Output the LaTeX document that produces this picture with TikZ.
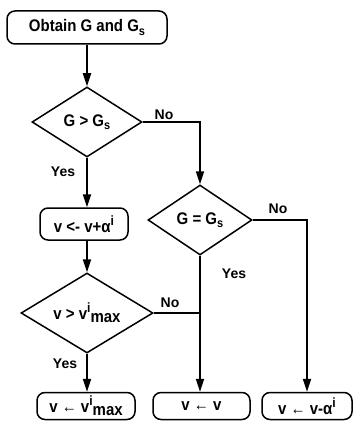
\documentclass[tikz,border=0pt]{standalone}
\usepackage{fontspec}
\setmainfont{Liberation Sans}
\usetikzlibrary{shapes.geometric,arrows.meta}
\newcommand{\supi}{\raisebox{0.42em}{\fontsize{12}{12}\selectfont i}}
\newcommand{\lowmax}{\raisebox{-0.18em}{max}}
\newcommand{\subs}{\raisebox{-0.2em}{\fontsize{11}{11}\selectfont s}}
\newcommand{\tallt}[1]{\scalebox{1}[1.12]{#1}}
\tikzset{
  txt/.style={font=\fontsize{15}{18}\selectfont\bfseries, inner sep=0pt},
  roundbox/.style={txt, draw, line width=1.5pt, rounded corners=8pt},
  decision/.style={txt, draw, diamond, line width=1.5pt, aspect=1.5},
  lbl/.style={font=\fontsize{14}{16}\selectfont\bfseries, inner sep=0pt},
  conn/.style={line width=1.8pt},
  flow/.style={conn, -{Triangle[length=13pt,width=8pt]}}
}
\begin{document}
\begin{tikzpicture}[x=1pt,y=-1pt]
\useasboundingbox (0,0) rectangle (354,422);
\node[roundbox, minimum width=160pt, minimum height=33pt] (start) at (87,27.5) {\tallt{Obtain G and G\subs}};
\node[decision, minimum width=110pt, minimum height=70pt] (d1) at (87,122) {\tallt{G > G\subs}};
\node[roundbox, minimum width=88pt, minimum height=32pt] (b2) at (84,224) {\tallt{v <- v+α\supi}};
\node[decision, minimum width=132pt, minimum height=80pt] (d3) at (87,313) {\tallt{v > v\supi\lowmax}};
\node[decision, minimum width=104pt, minimum height=70pt] (d2) at (200,220) {\tallt{G = G\subs}};
\node[roundbox, minimum width=98pt, minimum height=27pt] (e1) at (86,406) {\tallt{v ← v\supi\lowmax}};
\node[roundbox, minimum width=97pt, minimum height=27pt] (e2) at (201.5,406) {\tallt{v ← v}};
\node[roundbox, minimum width=90pt, minimum height=27pt] (e3) at (307,406) {\tallt{v ← v-α\supi}};

\draw[flow] (start.south -| d1.north) -- (d1.north);
\draw[flow] (d1.east) -| (d2.north);
\draw[flow] (d1.south) -- (d1.south |- b2.north);
\draw[flow] (d3.north |- b2.south) -- (d3.north);
\draw[flow] (d3.south) -- (d3.south |- e1.north);
\draw[flow] (d2.south) -- (d2.south |- e2.north);
\draw[conn] (d3.east) -- (d3.east -| d2.south);
\draw[flow] (d2.east) -| (e3.north);

\node[lbl] (no1) at (164,115) {No};
\node[lbl] (yes1) at (63,172) {Yes};
\node[lbl] (no2) at (278,209) {No};
\node[lbl] (yes2) at (234,274) {Yes};
\node[lbl] (no3) at (170,303) {No};
\node[lbl] (yes3) at (65,364) {Yes};
\end{tikzpicture}
\end{document}
